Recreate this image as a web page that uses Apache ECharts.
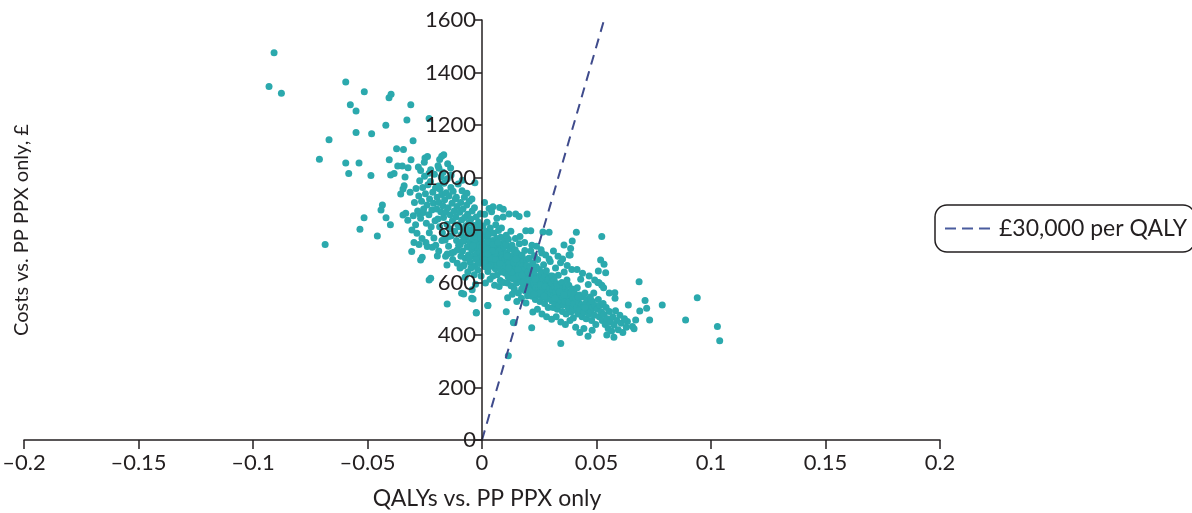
<!DOCTYPE html>
<html>
<head>
<meta charset="utf-8">
<script src="https://cdn.jsdelivr.net/npm/echarts@6/dist/echarts.min.js"></script>
<style>html,body{margin:0;padding:0;background:#fff}#c{width:1192px;height:513px}</style>
</head>
<body>
<div id="c"></div>
<script>
// Tick values / axis ranges
const xTicks = [-0.2, -0.15, -0.1, -0.05, 0, 0.05, 0.1, 0.15, 0.2];
const yTicks = [0, 200, 400, 600, 800, 1000, 1200, 1400, 1600];
const xName = 'QALYs vs. PP PPX only';
const yName = 'Costs vs. PP PPX only, £';
const thresholdName = '£30,000 per QALY';
// Threshold line end points [QALY, cost]
const thresholdLine = [[0, 0], [0.0533, 1600]];

// Scatter points [incremental QALYs, incremental cost]
const outlierPoints = [
[-0.0908,1475],[-0.093,1347],[-0.0876,1321],[-0.0595,1364],[-0.0514,1327],[-0.0575,1277],[-0.055,1253],
[-0.0406,1304],[-0.0397,1317],[-0.0311,1277],[-0.0328,1219],[-0.042,1199],[-0.0231,1225],[-0.055,1171],
[-0.0482,1167],[-0.0668,1144],[-0.0301,1140],[-0.0373,1110],[-0.0343,1107],[-0.071,1070],[-0.0595,1055],
[-0.0537,1055],[-0.0405,1068],[-0.031,1068],[-0.0249,1074],[-0.0185,1069],[-0.0176,1081],[-0.0167,1087],
[-0.0582,1015],[-0.0485,1008],[-0.0368,1044],[-0.0348,1044],[-0.0323,1037],[-0.0399,1010],[-0.0384,1015],
[-0.0336,1002],[-0.0268,1027],[-0.0188,1035],[-0.0137,1036],[-0.0231,1016],[-0.0031,980],[-0.034,969],
[-0.0345,956],[-0.0355,937],[-0.0314,944],[-0.0435,895],[-0.0441,876],[-0.0515,847],[-0.0533,803],
[-0.0457,777],[-0.0419,847],[-0.04,820],[-0.0345,857],[-0.0333,864],[-0.0324,837],[-0.0306,800],
[-0.03,854],[-0.0272,861],[-0.0256,867],[-0.0685,745],[-0.0297,752],[-0.0275,745],[-0.0307,718],
[-0.0268,686],[-0.0261,696],[-0.0239,737],[-0.0217,734],[-0.0202,742],[-0.0195,701],[-0.0153,667],
[-0.0152,709],[-0.0231,610],[-0.0224,616],[-0.0152,518],[-0.0089,559],[-0.008,556],[-0.0025,486],
[-0.0039,537],[-0.0028,593],[0.0025,512],[0.0106,489],[0.014,447],[-0.0108,673],[-0.0082,663],
[-0.0134,711],[-0.0108,724],[0.0048,889],[0.0077,886],[0.0093,879],[0.0118,861],[0.0147,861],
[0.0162,851],[0.0197,861],[0.0412,791],[0.0523,775],[0.0191,797],[0.0213,797],[0.0266,792],[0.0293,791],
[0.0394,758],[0.0387,730],[0.0358,743],[0.038,705],[0.0518,686],[0.0533,670],[0.054,637],[0.0508,644],
[0.0686,603],[0.0511,599],[0.0523,590],[0.058,561],[0.0639,514],[0.0712,531],[0.0719,502],[0.0787,514],
[0.094,542],[0.0689,491],[0.0732,457],[0.0889,457],[0.1028,432],[0.1038,378],[0.0671,457],[0.0635,451],
[0.0657,432],[0.0664,424],[0.0576,391],[0.0344,368],[0.0217,428],[0.0137,448],[0.0115,321],[0.0026,512],
[-0.0025,484],[-0.0045,540],[-0.0043,572]
];
const clusterA = [
[-0.0295,905],[-0.0288,958],[-0.0281,872],[-0.0276,930],[-0.0272,988],[-0.0268,845],[-0.0264,910],[-0.0259,962],
[-0.0255,880],[-0.0251,1005],[-0.0247,938],[-0.0243,826],[-0.0240,895],[-0.0236,972],[-0.0232,858],[-0.0229,918],
[-0.0225,985],[-0.0222,812],[-0.0219,876],[-0.0215,944],[-0.0212,902],[-0.0208,1012],[-0.0205,835],[-0.0203,960],
[-0.0290,820],[-0.0284,788],[-0.0262,768],[-0.0245,752],[-0.0230,790],[-0.0210,770],[-0.0278,1040],[-0.0252,1058],
[-0.0224,1030],[-0.0238,1080]
];
const clusterB = [
[-0.0198,880],[-0.0196,925],[-0.0193,842],[-0.0190,968],[-0.0188,905],[-0.0185,812],[-0.0183,955],[-0.0180,870],
[-0.0178,1002],[-0.0176,935],[-0.0173,790],[-0.0171,892],[-0.0168,848],[-0.0166,978],[-0.0163,915],[-0.0161,762],
[-0.0158,868],[-0.0156,942],[-0.0153,822],[-0.0151,995],[-0.0148,885],[-0.0146,738],[-0.0144,930],[-0.0141,805],
[-0.0139,858],[-0.0136,962],[-0.0134,778],[-0.0131,902],[-0.0129,835],[-0.0126,948],[-0.0124,715],[-0.0121,872],
[-0.0119,795],[-0.0116,918],[-0.0114,850],[-0.0111,760],[-0.0109,890],[-0.0106,820],[-0.0104,975],[-0.0102,742],
[-0.0192,1045],[-0.0170,1020],[-0.0150,1052],[-0.0135,1010],[-0.0189,720],[-0.0159,700],[-0.0128,688],[-0.0112,925],
[-0.0175,760],[-0.0145,775]
];
const clusterC = [
[-0.0099,812],[-0.0097,868],[-0.0095,745],[-0.0093,905],[-0.0091,782],[-0.0089,838],[-0.0087,950],[-0.0085,720],
[-0.0083,880],[-0.0081,802],[-0.0079,758],[-0.0077,925],[-0.0075,848],[-0.0073,692],[-0.0071,815],[-0.0069,772],
[-0.0067,895],[-0.0065,735],[-0.0063,860],[-0.0061,790],[-0.0059,705],[-0.0057,828],[-0.0055,910],[-0.0053,752],
[-0.0051,676],[-0.0049,842],[-0.0047,795],[-0.0045,725],[-0.0043,872],[-0.0041,768],[-0.0039,700],[-0.0037,818],
[-0.0035,745],[-0.0033,885],[-0.0031,662],[-0.0029,780],[-0.0027,732],[-0.0025,850],[-0.0023,710],[-0.0021,805],
[-0.0019,760],[-0.0017,685],[-0.0015,830],[-0.0013,742],[-0.0011,790],[-0.0009,715],[-0.0007,862],[-0.0005,770],
[-0.0003,698],[-0.0001,735],[-0.0092,700],[-0.0078,668],[-0.0062,640],[-0.0048,655],[-0.0034,630],[-0.0018,648],
[-0.0004,625],[-0.0086,990],[-0.0066,940],[-0.0044,918],[-0.0096,655],[-0.0074,620],[-0.0056,690],[-0.0040,740],
[-0.0026,688],[-0.0012,672],[-0.0082,760],[-0.0058,802],[-0.0036,778],[-0.0014,812]
];
const clusterD = [
[0.0002,752],[0.0004,815],[0.0006,690],[0.0008,778],[0.0010,725],[0.0012,860],[0.0014,660],[0.0016,742],
[0.0018,795],[0.0020,705],[0.0022,830],[0.0024,768],[0.0026,642],[0.0028,718],[0.0030,785],[0.0032,680],
[0.0034,748],[0.0036,808],[0.0038,662],[0.0040,730],[0.0042,870],[0.0044,698],[0.0046,760],[0.0048,625],
[0.0050,712],[0.0052,788],[0.0054,675],[0.0056,742],[0.0058,652],[0.0060,820],[0.0062,705],[0.0064,768],
[0.0066,630],[0.0068,728],[0.0070,690],[0.0072,798],[0.0074,655],[0.0076,740],[0.0078,710],[0.0080,608],
[0.0082,772],[0.0084,682],[0.0086,748],[0.0088,640],[0.0090,718],[0.0092,850],[0.0094,668],[0.0096,735],
[0.0098,695],[0.0003,700],[0.0013,738],[0.0023,692],[0.0033,722],[0.0043,668],[0.0053,735],[0.0063,678],
[0.0073,720],[0.0083,650],[0.0093,702],[0.0007,742],[0.0017,688],[0.0027,755],[0.0037,705],[0.0047,690],
[0.0057,712],[0.0067,665],[0.0077,688],[0.0087,705],[0.0097,640],[0.0009,672],[0.0019,725],[0.0029,660],
[0.0039,692],[0.0049,745],[0.0059,688],[0.0069,752],[0.0079,672],[0.0089,695],[0.0099,760],[0.0015,598],
[0.0035,612],[0.0055,590],[0.0075,585],[0.0095,600],[0.0011,905],[0.0031,882],[0.0065,845],[0.0085,808],
[0.0045,720],[0.0025,710]
];
const clusterE = [
[0.0101,690],[0.0103,635],[0.0105,745],[0.0107,668],[0.0109,712],[0.0111,598],[0.0113,680],[0.0115,765],
[0.0117,642],[0.0119,700],[0.0121,620],[0.0123,728],[0.0125,660],[0.0127,588],[0.0129,690],[0.0131,742],
[0.0133,615],[0.0135,672],[0.0137,705],[0.0139,645],[0.0141,575],[0.0143,688],[0.0145,725],[0.0147,630],
[0.0149,660],[0.0151,598],[0.0153,712],[0.0155,648],[0.0157,685],[0.0159,560],[0.0161,620],[0.0163,748],
[0.0165,665],[0.0167,605],[0.0169,692],[0.0171,638],[0.0173,575],[0.0175,705],[0.0177,652],[0.0179,615],
[0.0181,680],[0.0183,592],[0.0185,635],[0.0187,722],[0.0189,568],[0.0191,660],[0.0193,608],[0.0195,688],
[0.0197,625],[0.0199,550],[0.0104,662],[0.0114,622],[0.0124,690],[0.0134,648],[0.0144,612],[0.0154,672],
[0.0164,635],[0.0174,662],[0.0184,612],[0.0194,640],[0.0108,700],[0.0118,672],[0.0128,640],[0.0138,678],
[0.0148,690],[0.0158,625],[0.0168,648],[0.0178,598],[0.0188,655],[0.0198,598],[0.0112,542],[0.0132,555],
[0.0152,528],[0.0172,540],[0.0192,522],[0.0106,780],[0.0126,795],[0.0146,768],[0.0166,775],[0.0186,752],
[0.0116,655],[0.0136,615],[0.0156,650],[0.0176,628],[0.0196,665]
];
const clusterF = [
[0.0201,640],[0.0203,588],[0.0205,692],[0.0207,615],[0.0209,560],[0.0211,660],[0.0213,720],[0.0215,598],
[0.0217,632],[0.0219,548],[0.0221,675],[0.0223,610],[0.0225,578],[0.0227,645],[0.0229,702],[0.0231,590],
[0.0233,535],[0.0235,625],[0.0237,660],[0.0239,572],[0.0241,605],[0.0243,688],[0.0245,552],[0.0247,618],
[0.0249,585],[0.0251,650],[0.0253,528],[0.0255,600],[0.0257,565],[0.0259,635],[0.0261,712],[0.0263,578],
[0.0265,545],[0.0267,612],[0.0269,668],[0.0271,590],[0.0273,520],[0.0275,625],[0.0277,560],[0.0279,598],
[0.0281,645],[0.0283,538],[0.0285,582],[0.0287,610],[0.0289,505],[0.0291,568],[0.0293,690],[0.0295,598],
[0.0297,548],[0.0299,625],[0.0206,570],[0.0216,560],[0.0226,598],[0.0236,580],[0.0246,570],[0.0256,590],
[0.0266,575],[0.0276,585],[0.0286,560],[0.0296,575],[0.0212,630],[0.0232,612],[0.0252,560],[0.0272,548],
[0.0292,612],[0.0222,488],[0.0242,498],[0.0262,480],[0.0282,470],[0.0218,742],[0.0238,738],[0.0258,725],
[0.0278,705],[0.0298,680],[0.0228,555]
];
const clusterG = [
[0.0301,560],[0.0303,598],[0.0305,530],[0.0307,625],[0.0309,572],[0.0311,505],[0.0313,548],[0.0315,610],
[0.0317,585],[0.0319,520],[0.0321,655],[0.0323,565],[0.0325,538],[0.0327,595],[0.0329,498],[0.0331,578],
[0.0333,628],[0.0335,545],[0.0337,512],[0.0339,588],[0.0341,555],[0.0343,675],[0.0345,530],[0.0347,568],
[0.0349,600],[0.0351,490],[0.0353,545],[0.0355,578],[0.0357,515],[0.0359,640],[0.0361,560],[0.0363,528],
[0.0365,585],[0.0367,480],[0.0369,550],[0.0371,610],[0.0373,535],[0.0375,565],[0.0377,502],[0.0379,590],
[0.0381,545],[0.0383,520],[0.0385,705],[0.0387,560],[0.0389,488],[0.0391,530],[0.0393,575],[0.0395,512],
[0.0397,548],[0.0399,465],[0.0304,460],[0.0324,470],[0.0344,450],[0.0364,440],[0.0384,455],[0.0312,720],
[0.0332,700],[0.0352,690],[0.0372,665],[0.0392,650],[0.0318,540],[0.0338,565],[0.0358,552],[0.0378,525],
[0.0398,538]
];
const clusterH = [
[0.0401,520],[0.0404,558],[0.0407,495],[0.0410,540],[0.0413,505],[0.0416,580],[0.0419,480],[0.0422,525],
[0.0425,552],[0.0428,498],[0.0431,612],[0.0434,515],[0.0437,470],[0.0440,545],[0.0443,508],[0.0446,488],
[0.0449,560],[0.0452,520],[0.0455,462],[0.0458,535],[0.0461,500],[0.0464,592],[0.0467,478],[0.0470,515],
[0.0473,545],[0.0476,490],[0.0479,455],[0.0482,528],[0.0485,505],[0.0488,560],[0.0491,475],[0.0494,512],
[0.0497,440],[0.0409,430],[0.0427,410],[0.0445,425],[0.0463,395],[0.0481,418],[0.0415,650],[0.0439,635],
[0.0468,625],[0.0492,610],[0.0420,545],[0.0450,505],[0.0478,530]
];
const clusterI = [
[0.0503,498],[0.0508,535],[0.0512,470],[0.0516,512],[0.0521,488],[0.0525,455],[0.0529,520],[0.0533,478],
[0.0538,440],[0.0542,505],[0.0547,462],[0.0551,425],[0.0556,490],[0.0561,450],[0.0566,415],[0.0571,470],
[0.0577,438],[0.0583,492],[0.0589,455],[0.0595,420],[0.0602,475],[0.0608,445],[0.0615,410],[0.0622,462],
[0.0630,430],[0.0506,600],[0.0531,580],[0.0556,560],[0.0581,540],[0.0545,400]
];

const scatterData = [].concat(outlierPoints, clusterA, clusterB, clusterC, clusterD, clusterE, clusterF, clusterG, clusterH, clusterI);

const FONT = 'Lato, "DejaVu Sans", sans-serif';
const TXT = '#231f20';
const fmtX = v => String(Math.round(v * 1000) / 1000).replace('-', '\u2013');
const fmtY = v => String(v);

// Plot area geometry
const G_LEFT = 24, G_RIGHT = 252, G_TOP = 20, G_BOTTOM = 73;
const PLOT_W = 1192 - G_LEFT - G_RIGHT;
// Y axis sits at x = 0 of the x range
const yAxisX = G_LEFT + PLOT_W * (0 - xTicks[0]) / (xTicks[xTicks.length - 1] - xTicks[0]);

const chart = echarts.init(document.getElementById('c'), null, {renderer: 'canvas'});
chart.setOption({
  animation: false,
  backgroundColor: '#ffffff',
  textStyle: {fontFamily: FONT, color: TXT},
  grid: [
    {left: G_LEFT, right: G_RIGHT, top: G_TOP, bottom: G_BOTTOM, containLabel: false, outerBoundsMode: 'none'},
    {left: yAxisX, width: 10, top: G_TOP, bottom: G_BOTTOM, containLabel: false, outerBoundsMode: 'none'}
  ],
  legend: {
    data: [{name: thresholdName, icon: 'path://M0,0H11V2H0Z M17,0H28V2H17Z M34,0H45V2H34Z', itemStyle: {color: '#4a5c9e'}}],
    left: 935, top: 205,
    orient: 'vertical',
    padding: [12, 8, 12, 10],
    borderColor: TXT, borderWidth: 1.5, borderRadius: 12,
    itemWidth: 45, itemHeight: 2, itemGap: 0,
    textStyle: {fontFamily: FONT, fontSize: 23, color: TXT, padding: [0, 0, 0, 4]}
  },
  xAxis: [
    {
      gridIndex: 0, type: 'value', min: xTicks[0], max: xTicks[xTicks.length - 1], interval: 0.05,
      name: xName, nameLocation: 'middle', nameGap: 47, nameMoveOverlap: false,
      nameTextStyle: {fontFamily: FONT, fontSize: 23, color: TXT, verticalAlign: 'top', padding: [0, 0, 0, 10]},
      axisLine: {onZero: false, lineStyle: {color: TXT, width: 1.5}},
      axisTick: {show: true, inside: false, length: 9, lineStyle: {color: TXT, width: 1.5}},
      axisLabel: {formatter: fmtX, fontFamily: FONT, fontSize: 22, color: TXT, margin: 12, hideOverlap: false},
      splitLine: {show: false}
    },
    {
      gridIndex: 1, type: 'value', min: 0, max: 1, show: false
    }
  ],
  yAxis: [
    {
      gridIndex: 0, type: 'value', min: yTicks[0], max: yTicks[yTicks.length - 1], interval: 200,
      show: false
    },
    {
      gridIndex: 1, type: 'value', min: yTicks[0], max: yTicks[yTicks.length - 1], interval: 200,
      position: 'left', z: 10,
      name: yName, nameLocation: 'middle', nameGap: 450, nameRotate: 90, nameMoveOverlap: false,
      nameTextStyle: {fontFamily: FONT, fontSize: 20, color: TXT},
      axisLine: {show: true, onZero: false, lineStyle: {color: TXT, width: 1.5}},
      axisTick: {show: true, inside: false, length: 8, lineStyle: {color: TXT, width: 1.5}},
      axisLabel: {formatter: fmtY, fontFamily: FONT, fontSize: 22, color: TXT, margin: 6, hideOverlap: false},
      splitLine: {show: false}
    }
  ],
  series: [
    {
      type: 'scatter', name: 'sims', data: scatterData, xAxisIndex: 0, yAxisIndex: 0,
      symbolSize: 7, itemStyle: {color: '#2ba9ad', opacity: 1},
      z: 2
    },
    {
      type: 'line', name: thresholdName, data: thresholdLine, xAxisIndex: 0, yAxisIndex: 0,
      symbol: 'none', showSymbol: false,
      lineStyle: {color: '#3f4b8c', width: 2, type: [10, 7]},
      itemStyle: {color: '#3f4b8c'},
      z: 3
    }
  ]
});
</script>
</body>
</html>
